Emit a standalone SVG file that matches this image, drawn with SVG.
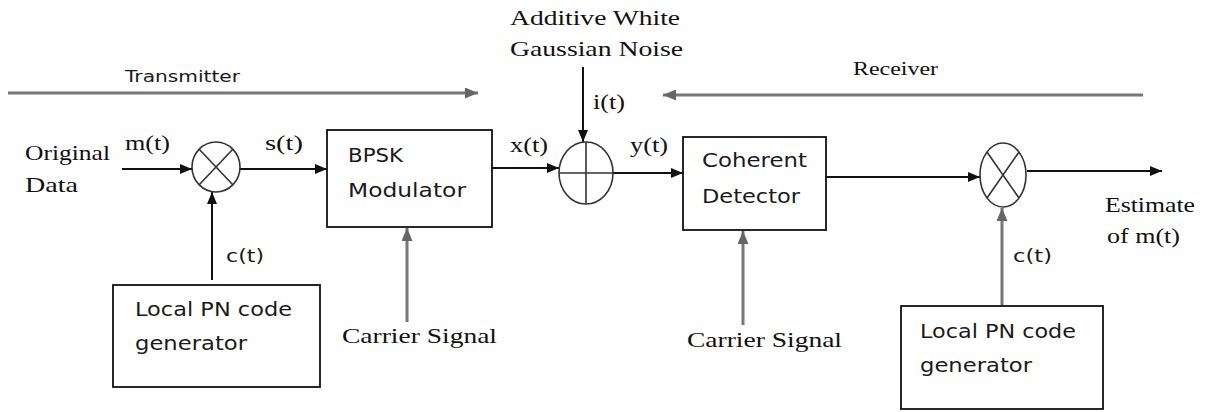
<svg xmlns="http://www.w3.org/2000/svg" width="1216" height="412" viewBox="0 0 1216 412">
<style>
.ser{font-family:"Liberation Serif","Times New Roman",serif;font-size:21px;fill:#111}
.sans{font-family:"DejaVu Sans","Liberation Sans",sans-serif;font-size:19px;fill:#1a1a1a}
.box{fill:#fff;stroke:#111;stroke-width:1.8}
.sym{fill:#fff;stroke:#333;stroke-width:1.6}
.cross{stroke:#333;stroke-width:1.6}
.k{stroke:#111;stroke-width:2;fill:none;marker-end:url(#ak)}
.g{stroke:#777;stroke-width:3;fill:none;marker-end:url(#ag)}
</style>
<defs>
<marker id="ak" viewBox="0 0 12 10" refX="12" refY="5" markerWidth="12" markerHeight="10" markerUnits="userSpaceOnUse" orient="auto"><path d="M0,0 L12,5 L0,10 z" fill="#111"/></marker>
<marker id="ag" viewBox="0 0 13 11" refX="13" refY="5.5" markerWidth="13" markerHeight="11" markerUnits="userSpaceOnUse" orient="auto"><path d="M0,0 L13,5.5 L0,11 z" fill="#666"/></marker>
</defs>
<rect width="1216" height="412" fill="#fff"/>

<g id="connectors">
<path class="g" d="M8,93 L478,93"/>
<path class="g" d="M1143,95 L663,95"/>
<path class="k" d="M122,169 L192,169"/>
<path class="k" d="M240,169 L327,169"/>
<path class="k" d="M212,280 L212,192"/>
<path class="g" d="M407,322 L407,228"/>
<path class="k" d="M492,168 L559,168"/>
<path class="k" d="M583,67 L583,142"/>
<path class="k" d="M613,173 L683,173"/>
<path class="g" d="M743,325 L743,231"/>
<path class="k" d="M826,177 L980,177"/>
<path class="g" d="M1002,306 L1002,208"/>
<path class="k" d="M1027,171 L1162,171"/>
</g>

<g id="mixer1">
<ellipse class="sym" cx="216" cy="167" rx="24" ry="25"/>
<line class="cross" x1="199" y1="149" x2="233" y2="185"/>
<line class="cross" x1="233" y1="149" x2="199" y2="185"/>
</g>

<g id="bpsk">
<rect class="box" x="327" y="130" width="165" height="97"/>
<text class="sans" x="348" y="162" textLength="55" lengthAdjust="spacingAndGlyphs">BPSK</text>
<text class="sans" x="348" y="197" textLength="118" lengthAdjust="spacingAndGlyphs">Modulator</text>
</g>

<g id="adder">
<ellipse class="sym" cx="586" cy="173" rx="27" ry="31"/>
<line class="cross" x1="559" y1="173" x2="613" y2="173"/>
<line class="cross" x1="586" y1="142" x2="586" y2="204"/>
</g>

<g id="detector">
<rect class="box" x="683" y="137" width="143" height="93"/>
<text class="sans" x="702" y="167" textLength="105" lengthAdjust="spacingAndGlyphs">Coherent</text>
<text class="sans" x="702" y="203" textLength="98" lengthAdjust="spacingAndGlyphs">Detector</text>
</g>

<g id="mixer2">
<ellipse class="sym" cx="1003" cy="175" rx="23" ry="32"/>
<line class="cross" x1="987" y1="152" x2="1019" y2="198"/>
<line class="cross" x1="1019" y1="152" x2="987" y2="198"/>
</g>

<g id="pn1">
<rect class="box" x="113" y="285" width="207" height="102"/>
<text class="sans" x="135" y="316" textLength="157" lengthAdjust="spacingAndGlyphs">Local PN code</text>
<text class="sans" x="135" y="350" textLength="112" lengthAdjust="spacingAndGlyphs">generator</text>
</g>

<g id="pn2">
<rect class="box" x="901" y="306" width="202" height="103"/>
<text class="sans" x="920" y="338" textLength="156" lengthAdjust="spacingAndGlyphs">Local PN code</text>
<text class="sans" x="920" y="372" textLength="112" lengthAdjust="spacingAndGlyphs">generator</text>
</g>

<g id="labels">
<text class="sans" x="125" y="82" style="font-size:15px" textLength="115" lengthAdjust="spacingAndGlyphs">Transmitter</text>
<text class="ser" x="853" y="75" style="font-size:19px" textLength="85" lengthAdjust="spacingAndGlyphs">Receiver</text>
<text class="ser" x="25" y="160" textLength="85" lengthAdjust="spacingAndGlyphs">Original</text>
<text class="ser" x="25" y="192" textLength="53" lengthAdjust="spacingAndGlyphs">Data</text>
<text class="ser" x="125" y="150" textLength="45" lengthAdjust="spacingAndGlyphs">m(t)</text>
<text class="ser" x="265" y="150" textLength="38" lengthAdjust="spacingAndGlyphs">s(t)</text>
<text class="ser" x="510" y="25" textLength="170" lengthAdjust="spacingAndGlyphs">Additive White</text>
<text class="ser" x="510" y="56" textLength="173" lengthAdjust="spacingAndGlyphs">Gaussian Noise</text>
<text class="ser" x="593" y="109" textLength="32" lengthAdjust="spacingAndGlyphs">i(t)</text>
<text class="ser" x="510" y="152" textLength="38" lengthAdjust="spacingAndGlyphs">x(t)</text>
<text class="ser" x="630" y="152" textLength="38" lengthAdjust="spacingAndGlyphs">y(t)</text>
<text class="ser" x="342" y="343" textLength="155" lengthAdjust="spacingAndGlyphs">Carrier Signal</text>
<text class="ser" x="687" y="347" textLength="155" lengthAdjust="spacingAndGlyphs">Carrier Signal</text>
<text class="ser" x="1105" y="212" textLength="90" lengthAdjust="spacingAndGlyphs">Estimate</text>
<text class="ser" x="1107" y="243" textLength="73" lengthAdjust="spacingAndGlyphs">of m(t)</text>
<text class="sans" x="226" y="262" style="font-size:18px" textLength="38" lengthAdjust="spacingAndGlyphs">c(t)</text>
<text class="sans" x="1013" y="262" style="font-size:18px" textLength="39" lengthAdjust="spacingAndGlyphs">c(t)</text>
</g>
</svg>
